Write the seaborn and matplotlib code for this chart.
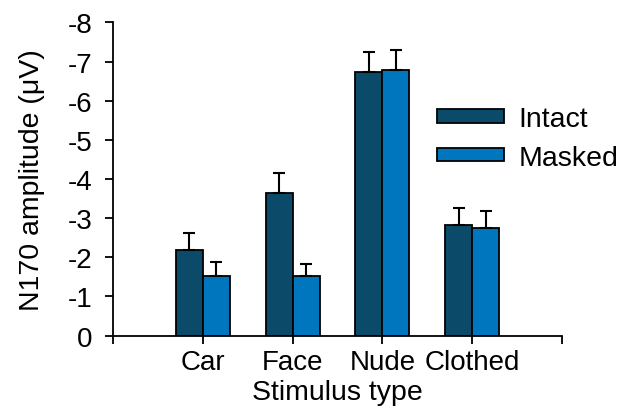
import seaborn as sns
import matplotlib.pyplot as plt
import pandas as pd
import numpy as np

# Values (N170 amplitude, microvolts)
stimuli = ["Car", "Face", "Nude", "Clothed"]
conditions = ["Intact", "Masked"]
intact_vals = [-2.19, -3.64, -6.73, -2.83]
masked_vals = [-1.53, -1.51, -6.78, -2.76]
intact_err = [0.44, 0.52, 0.52, 0.43]
masked_err = [0.36, 0.32, 0.51, 0.41]
y_ticks = [0, -1, -2, -3, -4, -5, -6, -7, -8]

colors = {"Intact": "#0b4a69", "Masked": "#0076bf"}

data = pd.DataFrame({
    "Stimulus type": stimuli * 2,
    "Condition": ["Intact"] * 4 + ["Masked"] * 4,
    "Amplitude": intact_vals + masked_vals,
    "Err": intact_err + masked_err,
})

sns.set_style("white")
plt.rcParams["font.family"] = ["Liberation Sans", "DejaVu Sans"]
plt.rcParams["text.color"] = "black"
plt.rcParams["axes.labelcolor"] = "black"

fig = plt.figure(figsize=(6.32, 4.10), dpi=100)
ax = fig.add_axes([0.179, 0.179, 0.710, 0.764])

sns.barplot(
    data=data, x="Stimulus type", y="Amplitude", hue="Condition",
    order=stimuli, hue_order=conditions, palette=colors,
    width=0.6, errorbar=None, edgecolor="black", linewidth=1.3,
    saturation=1, ax=ax,
)

# one-sided error bars drawn at the bar centres
for cond, container in zip(conditions, ax.containers):
    sub = data[data["Condition"] == cond].set_index("Stimulus type").loc[stimuli]
    xs = [p.get_x() + p.get_width() / 2 for p in container.patches]
    ax.errorbar(xs, sub["Amplitude"], yerr=[sub["Err"], np.zeros(len(xs))],
                fmt="none", ecolor="black", elinewidth=1.5, capsize=4,
                capthick=1.5, zorder=1)

ax.set_xlim(-1, 4)
ax.set_xticks(range(-1, 5))
ax.set_xticklabels([""] + stimuli + [""], fontsize=20)
ax.set_ylim(0, -8)
ax.set_yticks(y_ticks)
ax.set_yticklabels([str(v) for v in y_ticks], fontsize=20)
ax.tick_params(axis="both", direction="out", length=6, width=1.3,
               color="black", labelcolor="black")
ax.tick_params(axis="y", pad=9)
ax.tick_params(axis="x", pad=4)
ax.yaxis.set_ticks_position("left")
ax.xaxis.set_ticks_position("bottom")

ax.set_xlabel("Stimulus type", fontsize=20.5, labelpad=2.5)
ax.set_ylabel("N170 amplitude (μV)", fontsize=20.5, labelpad=16)

for side in ["top", "right"]:
    ax.spines[side].set_visible(False)
for side in ["left", "bottom"]:
    ax.spines[side].set_color("black")
    ax.spines[side].set_linewidth(1.3)

ax.legend(
    loc="upper left", bbox_to_anchor=(437 / 632, 1 - 107 / 410),
    bbox_transform=fig.transFigure, frameon=False, fontsize=20.5,
    handlelength=2.35, handleheight=0.36, handletextpad=0.5,
    labelspacing=0.45, borderpad=0, borderaxespad=0,
)

plt.savefig("out.png", dpi=100)
